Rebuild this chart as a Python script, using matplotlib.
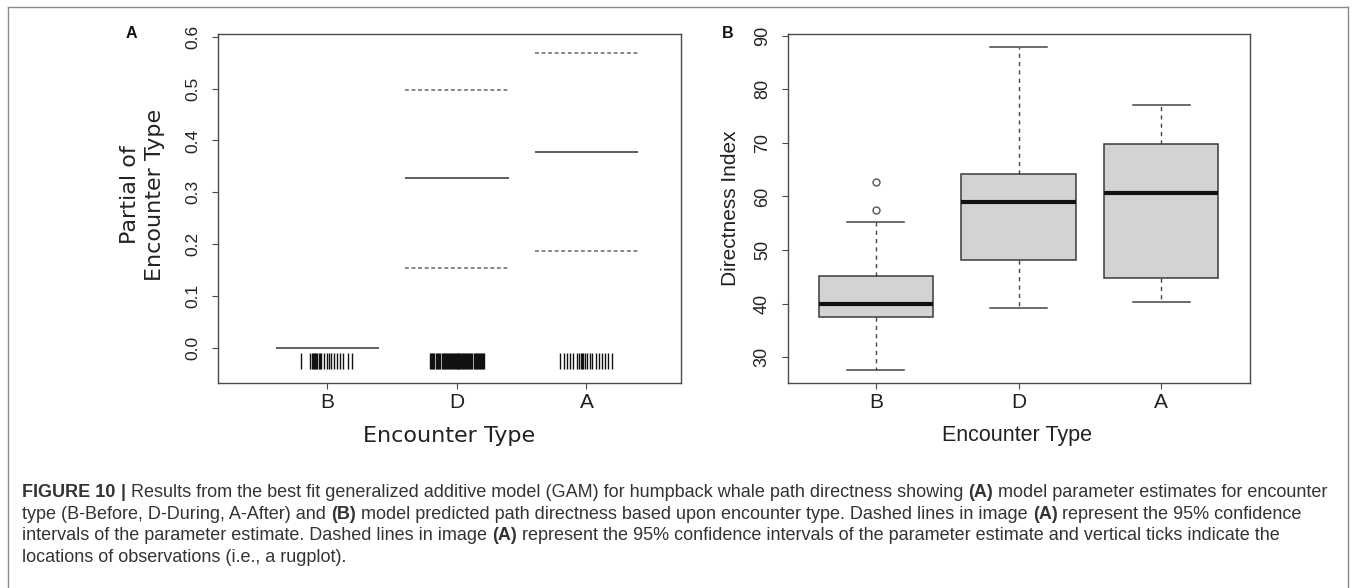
import matplotlib
matplotlib.use("Agg")
import matplotlib.pyplot as plt
from matplotlib.lines import Line2D
import numpy as np

# ---------------- data ----------------
categories = ["B", "D", "A"]
positions = [1, 2, 3]

# Panel A: GAM parameter estimates and 95% CI
gam_estimate = [0.0, 0.327, 0.378]
gam_lower = [np.nan, 0.154, 0.187]
gam_upper = [np.nan, 0.497, 0.569]

# rug (jittered observation locations)
rug_B = [0.796, 0.865, 0.885, 0.893, 0.900, 0.908, 0.915, 0.922, 0.936, 0.944,
         0.954, 0.974, 0.994, 1.014, 1.031, 1.051, 1.074, 1.094, 1.117, 1.162, 1.191]
rug_D = [1.790, 1.797, 1.805, 1.812, 1.820, 1.840, 1.848, 1.855, 1.862, 1.869,
         1.885, 1.892, 1.900, 1.907, 1.915, 1.922, 1.930, 1.937, 1.945, 1.952,
         1.960, 1.967, 1.975, 1.982, 1.990, 1.997, 2.005, 2.012, 2.020, 2.027,
         2.035, 2.042, 2.050, 2.057, 2.065, 2.072, 2.080, 2.087, 2.095, 2.102,
         2.110, 2.117, 2.135, 2.142, 2.150, 2.157, 2.165, 2.172, 2.180, 2.187,
         2.195, 2.202, 2.210]
rug_A = [2.796, 2.830, 2.850, 2.870, 2.900, 2.925, 2.945, 2.955, 2.965, 2.975,
         2.990, 3.005, 3.025, 3.045, 3.070, 3.095, 3.120, 3.140, 3.165, 3.196]

# Panel B: boxplot statistics of Directness Index
box_whislo = [27.7, 39.1, 40.4]
box_q1 = [37.5, 48.2, 44.7]
box_med = [39.9, 58.9, 60.7]
box_q3 = [45.2, 64.2, 69.8]
box_whishi = [55.2, 87.8, 77.0]
box_fliers = [[57.4, 62.6], [], []]

left_yticks = [0.0, 0.1, 0.2, 0.3, 0.4, 0.5, 0.6]
right_yticks = [30, 40, 50, 60, 70, 80, 90]

caption_lines = [
    [("FIGURE 10", True), (" | ", True),
     ("Results from the best fit generalized additive model (GAM) for humpback whale path directness showing ", False),
     ("(A)", True), (" model parameter estimates for encounter", False)],
    [("type (B-Before, D-During, A-After) and ", False), ("(B)", True),
     (" model predicted path directness based upon encounter type. Dashed lines in image ", False),
     ("(A)", True), (" represent the 95% confidence", False)],
    [("intervals of the parameter estimate. Dashed lines in image ", False), ("(A)", True),
     (" represent the 95% confidence intervals of the parameter estimate and vertical ticks indicate the", False)],
    [("locations of observations (i.e., a rugplot).", False)],
]

# ---------------- figure ----------------
W, H = 1358, 588
fig = plt.figure(figsize=(W / 100, H / 100), dpi=100)
fig.patch.set_facecolor("white")

HEL = "Liberation Sans"
DJV = "DejaVu Sans"
spine_c = "#4a4a4a"


def px_axes(x0, y0, x1, y1):
    return fig.add_axes([x0 / W, 1 - y1 / H, (x1 - x0) / W, (y1 - y0) / H])


def style_axes(ax):
    for s in ax.spines.values():
        s.set_color(spine_c)
        s.set_linewidth(1.0)
    ax.tick_params(axis="both", direction="out", length=4, width=0.8, color=spine_c)


# ---- Panel A ----
axA = px_axes(217.5, 34, 681, 383)
style_axes(axA)
half = 0.4
axA.hlines(gam_estimate, [p - half for p in positions], [p + half for p in positions],
           colors="#333333", linewidth=1.1)
axA.hlines(gam_lower, [p - half for p in positions], [p + half for p in positions],
           colors="#666666", linewidth=1.1, linestyles=(0, (2.5, 1.8)))
axA.hlines(gam_upper, [p - half for p in positions], [p + half for p in positions],
           colors="#666666", linewidth=1.1, linestyles=(0, (2.5, 1.8)))
for rug in (rug_B, rug_D, rug_A):
    axA.vlines(rug, -0.041, -0.0085, colors="#111111", linewidth=1.0)
axA.set_xlim(0.152, 3.73)
axA.set_ylim(-0.067, 0.605)
axA.set_xticks(positions)
axA.set_xticklabels(categories, fontsize=15, family=HEL, color="#222222")
axA.set_yticks(left_yticks)
axA.set_yticklabels([f"{v:.1f}" for v in left_yticks], fontsize=12.5, family=HEL,
                    rotation=90, va="center", color="#222222")
axA.tick_params(axis="x", pad=3)
axA.tick_params(axis="y", pad=8)
fig.text(142.5 / W, 1 - 195 / H, "Partial of\nEncounter Type", rotation=90, ha="center",
         va="center", fontsize=16, family=DJV, linespacing=1.3, multialignment="center",
         color="#222222")
fig.text(449 / W, 1 - 436 / H, "Encounter Type", ha="center", va="center",
         fontsize=16, family=DJV, color="#222222")
fig.text(131.5 / W, 1 - 34 / H, "A", ha="center", va="center", fontsize=11.5,
         fontweight="bold", family=HEL, color="#111111")

# ---- Panel B ----
axB = px_axes(787.5, 34, 1249.5, 383)
style_axes(axB)
stats = []
for i, c in enumerate(categories):
    stats.append(dict(label=c, whislo=box_whislo[i], q1=box_q1[i], med=box_med[i],
                      q3=box_q3[i], whishi=box_whishi[i], fliers=box_fliers[i]))
axB.bxp(stats, positions=positions, widths=0.8, patch_artist=True, showfliers=True,
        boxprops=dict(facecolor="#d3d3d3", edgecolor="#3a3a3a", linewidth=1.1),
        medianprops=dict(color="#111111", linewidth=3),
        whiskerprops=dict(color="#444444", linewidth=1.0, linestyle=(0, (3, 3))),
        capprops=dict(color="#444444", linewidth=1.1),
        capwidths=0.4,
        flierprops=dict(marker="o", markerfacecolor="none", markeredgecolor="#555555",
                        markersize=5, markeredgewidth=1.0))
axB.set_xlim(0.38, 3.62)
axB.set_ylim(25.2, 90.3)
axB.set_xticks(positions)
axB.set_xticklabels(categories, fontsize=15, family=HEL, color="#222222")
axB.set_yticks(right_yticks)
axB.set_yticklabels([str(v) for v in right_yticks], fontsize=13, family=HEL,
                    rotation=90, va="center", color="#222222")
axB.tick_params(axis="x", pad=3)
axB.tick_params(axis="y", pad=8)
fig.text(730 / W, 1 - 208 / H, "Directness Index", rotation=90, ha="center", va="center",
         fontsize=15, family=HEL, color="#222222")
fig.text(1016.5 / W, 1 - 436 / H, "Encounter Type", ha="center", va="center",
         fontsize=15.5, family=HEL, color="#222222")
fig.text(727.7 / W, 1 - 34 / H, "B", ha="center", va="center", fontsize=11.5,
         fontweight="bold", family=HEL, color="#111111")

# ---- frame ----
fc = "#8a8a8a"
fig.add_artist(Line2D([7.5 / W, 7.5 / W], [0, 1 - 6.5 / H], color=fc, linewidth=1.0,
                      transform=fig.transFigure))
fig.add_artist(Line2D([7.5 / W, 1348 / W], [1 - 6.5 / H, 1 - 6.5 / H], color=fc,
                      linewidth=1.0, transform=fig.transFigure))
fig.add_artist(Line2D([1348 / W, 1348 / W], [0, 1 - 6.5 / H], color=fc, linewidth=1.0,
                      transform=fig.transFigure))

# ---- caption ----
renderer = fig.canvas.get_renderer()
cap_size = 13


def text_width(s, bold):
    t = fig.text(0, 0, s, fontsize=cap_size, family=HEL,
                 fontweight="bold" if bold else "normal")
    w = t.get_window_extent(renderer).width
    t.remove()
    return w


space_w = {False: text_width("a a", False) - text_width("aa", False),
           True: text_width("a a", True) - text_width("aa", True)}

baselines = [497, 519, 540.5, 562]
for line, yb in zip(caption_lines, baselines):
    x = 22.5
    for s, bold in line:
        lead = len(s) - len(s.lstrip(" "))
        trail = len(s) - len(s.rstrip(" "))
        core = s.strip(" ")
        x += lead * space_w[bold]
        t = fig.text(x / W, 1 - yb / H, core, fontsize=cap_size, family=HEL,
                     fontweight="bold" if bold else "normal", ha="left", va="baseline",
                     color="#333333")
        x += t.get_window_extent(renderer).width + trail * space_w[bold]

fig.savefig("out.png", dpi=100, facecolor="white")
